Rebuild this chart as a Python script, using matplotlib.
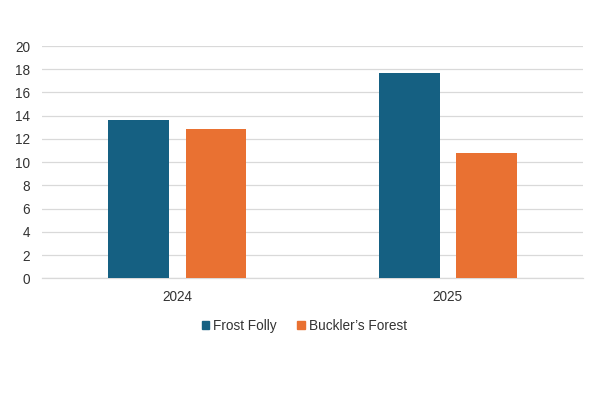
import numpy as np
import matplotlib
matplotlib.use('Agg')
from matplotlib import pyplot as plt
from matplotlib.patches import Patch

years = ['2024', '2025']
series_names = ['Frost Folly', 'Buckler\u2019s Forest']
frost_folly = [13.6, 17.7]
bucklers_forest = [12.9, 10.8]
colors = ['#156082', '#E97132']

plt.rcParams['font.family'] = ['Liberation Sans', 'DejaVu Sans']

fig = plt.figure(figsize=(6, 4), dpi=100)
ax = fig.add_axes([0.07, 0.304, 0.902, 0.581])

x = np.arange(len(years))
w = 0.225
off = 0.143
ax.bar(x - off, frost_folly, w, color=colors[0], zorder=3)
ax.bar(x + off, bucklers_forest, w, color=colors[1], zorder=3)

ax.set_xlim(-0.5, 1.5)
ax.set_ylim(0, 20)
ax.set_yticks(np.arange(0, 21, 2))
ax.set_xticks(x)
ax.set_xticklabels(years)
ax.yaxis.grid(True, color='#D9D9D9', linewidth=0.9, zorder=0)
for s in ['top', 'right', 'left']:
    ax.spines[s].set_visible(False)
ax.spines['bottom'].set_color('#D9D9D9')
ax.spines['bottom'].set_linewidth(0.9)
ax.tick_params(axis='both', length=0, labelsize=9.8, labelcolor='#333333')
ax.tick_params(axis='y', pad=8.5)
ax.tick_params(axis='x', pad=8.5)

handles = [Patch(color=c) for c in colors]
fig.legend(handles, series_names, loc='center', bbox_to_anchor=(0.507, 0.186),
           ncol=2, frameon=False, fontsize=9.8, handlelength=0.55, handleheight=0.55,
           handletextpad=0.3, columnspacing=1.5, labelcolor='#333333')

fig.savefig('out.png', dpi=100)
